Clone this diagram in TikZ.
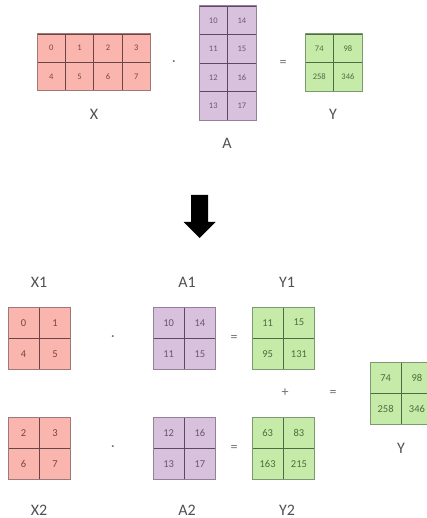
\documentclass[tikz,border=0pt]{standalone}
\usepackage{fontspec}
\setmainfont{Carlito}
\usetikzlibrary{arrows.meta, positioning, calc}
\definecolor{mRed}{HTML}{F9B5AE}
\definecolor{mRedLine}{HTML}{6B4444}
\definecolor{mRedEdge}{HTML}{A07878}
\definecolor{mRedText}{HTML}{7A4540}
\definecolor{mPurple}{HTML}{D8C1DC}
\definecolor{mPurpleLine}{HTML}{5E4A60}
\definecolor{mPurpleEdge}{HTML}{958098}
\definecolor{mPurpleText}{HTML}{6B5570}
\definecolor{mGreen}{HTML}{C6EBA9}
\definecolor{mGreenLine}{HTML}{4E6B45}
\definecolor{mGreenEdge}{HTML}{7C9A70}
\definecolor{mGreenText}{HTML}{4D6B3E}
\definecolor{mLabel}{HTML}{505050}
\definecolor{mOp}{HTML}{707070}

% #1 name, #2 x, #3 y, #4 cols, #5 rows, #6 cell size, #7 colour, #8 values
\newcommand{\drawmat}[8]{%
  \foreach \v [count=\k from 0] in {#8} {
    \pgfmathtruncatemacro{\row}{\k/#4}
    \pgfmathtruncatemacro{\col}{mod(\k,#4)}
    \node[#7 cell, minimum size=#6] (#1-\row\col)
      at ({#2+(\col+0.5)*#6}, {#3+(\row+0.5)*#6}) {\v};
  }
  \draw[#7 edge] (#2,#3) rectangle ({#2+#4*#6}, {#3+#5*#6});
}

\begin{document}
\begin{tikzpicture}[x=1pt, y=-1pt,
      cell/.style={draw, line width=0.9pt, inner sep=0pt},
      red cell/.style={cell, fill=mRed, draw=mRedLine, text=mRedText},
      purple cell/.style={cell, fill=mPurple, draw=mPurpleLine, text=mPurpleText},
      green cell/.style={cell, fill=mGreen, draw=mGreenLine, text=mGreenText},
      red edge/.style={draw=mRedEdge, line width=1pt},
      purple edge/.style={draw=mPurpleEdge, line width=1pt},
      green edge/.style={draw=mGreenEdge, line width=1pt},
      small/.style={font=\fontsize{8.5}{10}\selectfont},
      big/.style={font=\fontsize{10.5}{12}\selectfont},
      lbl/.style={text=mLabel, font=\fontsize{16}{18}\selectfont},
      op/.style={text=mOp, font=\fontsize{14}{16}\selectfont}]
  \clip (0,0) rectangle (427,518);

  % top: X . A = Y
  \begin{scope}[every node/.append style={small}]
    \drawmat{X}{37}{34}{4}{2}{28.4}{red}{0,1,2,3,4,5,6,7}
    \drawmat{A}{199}{6}{2}{4}{28.6}{purple}{10,14,11,15,12,16,13,17}
    \drawmat{Y}{305}{34}{2}{2}{28.6}{green}{74,98,258,346}
  \end{scope}
  \node[op] (dotT) at (174,63) {·};
  \node[op] (eqT) at (283,63) {=};
  \node[lbl] (lX) at (94,114) {X};
  \node[lbl] (lA) at (227,143) {A};
  \node[lbl] (lY) at (333,114) {Y};

  % block arrow
  \fill[black] (191,195) -- (208,195) -- (208,222) -- (215.5,222)
    -- (199.5,238) -- (183.5,222) -- (191,222) -- cycle;

  % bottom: split blocks
  \begin{scope}[every node/.append style={big}]
    \drawmat{X1}{8}{307}{2}{2}{31.3}{red}{0,1,4,5}
    \drawmat{A1}{153}{307}{2}{2}{31.3}{purple}{10,14,11,15}
    \drawmat{Y1}{252}{307}{2}{2}{31.3}{green}{11,15,95,131}
    \drawmat{X2}{8}{417}{2}{2}{31.3}{red}{2,3,6,7}
    \drawmat{A2}{153}{417}{2}{2}{31.3}{purple}{12,16,13,17}
    \drawmat{Y2}{252}{417}{2}{2}{31.3}{green}{63,83,163,215}
    \drawmat{Ys}{370}{362}{2}{2}{31.3}{green}{74,98,258,346}
  \end{scope}
  \node[lbl] (lX1) at (39,282) {X1};
  \node[lbl] (lA1) at (187,282) {A1};
  \node[lbl] (lY1) at (287,282) {Y1};
  \node[lbl] (lX2) at (39,510) {X2};
  \node[lbl] (lA2) at (187,510) {A2};
  \node[lbl] (lY2) at (287,510) {Y2};
  \node[lbl] (lYs) at (401,448) {Y};
  \node[op] (dot1) at (113,338) {·};
  \node[op] (eq1) at (234,338) {=};
  \node[op] (dot2) at (113,448) {·};
  \node[op] (eq2) at (234,448) {=};
  \node[op] (plus) at (285,393) {+};
  \node[op] (eqS) at (333,393) {=};
\end{tikzpicture}
\end{document}
